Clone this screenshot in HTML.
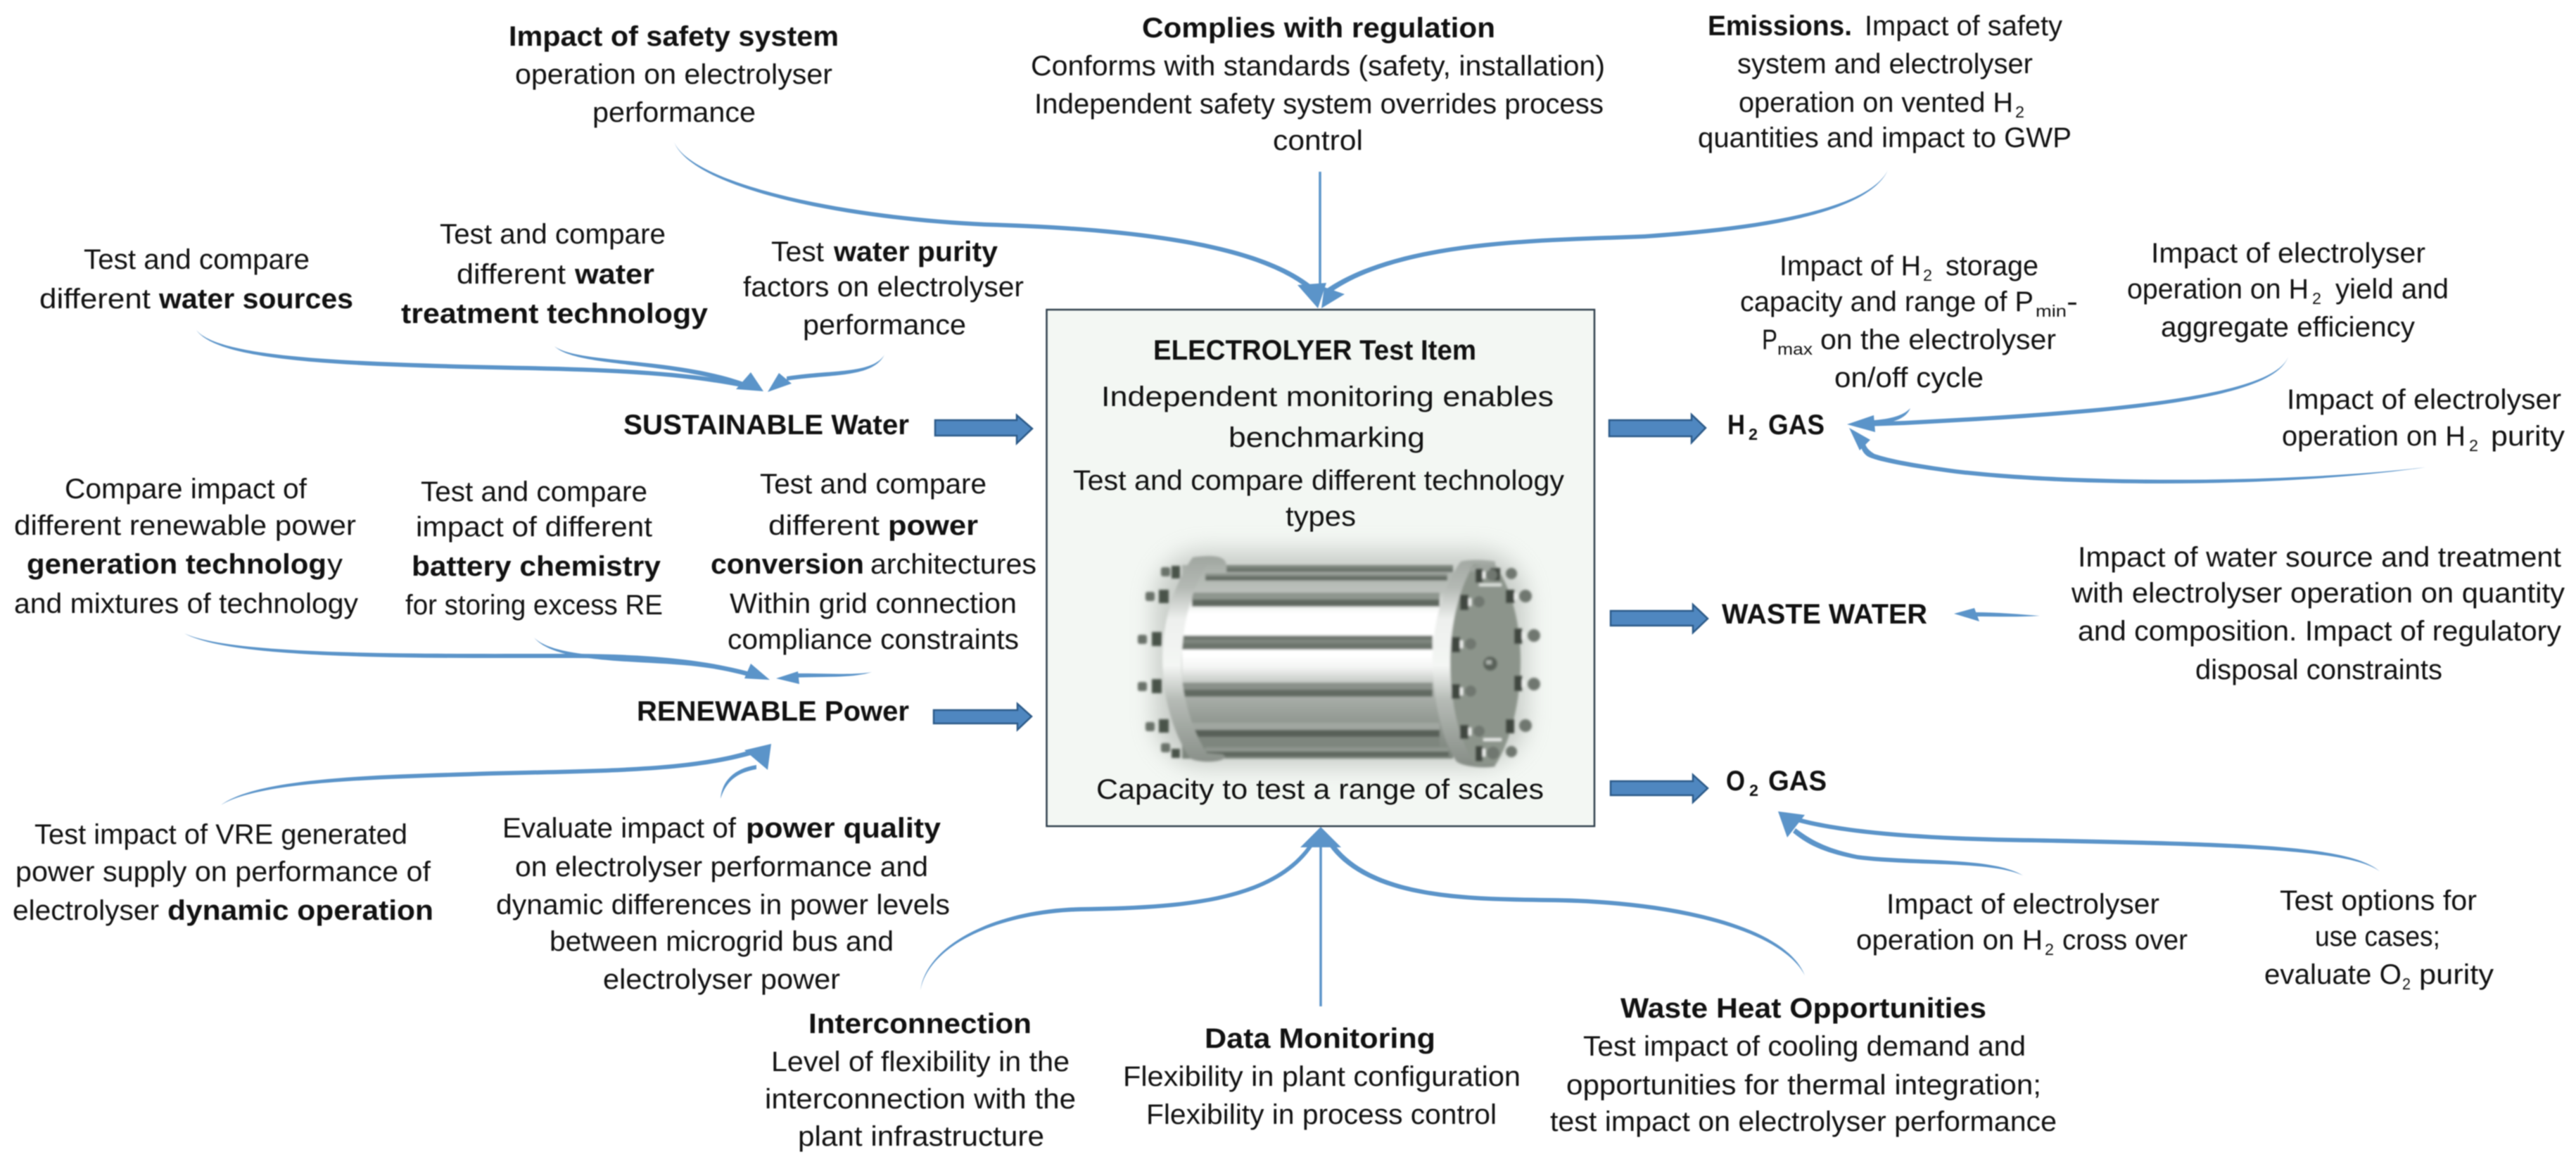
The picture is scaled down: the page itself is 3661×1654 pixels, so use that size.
<!DOCTYPE html>
<html><head><meta charset="utf-8">
<style>
html,body{margin:0;padding:0;background:#fff;width:3661px;height:1654px;overflow:hidden}
svg{display:block;filter:blur(.7px)}
text{font-family:"Liberation Sans",sans-serif;font-size:40px;fill:#111}
.b{font-weight:700}
.s{font-size:23px}
.t{fill:none;stroke:#5b94c9;stroke-width:3.5}
.h,.c{fill:#5b94c9}
.a{fill:#4f87c0;stroke:#2c5a88;stroke-width:2.5}
</style></head><body>
<svg xmlns="http://www.w3.org/2000/svg" width="3661" height="1654" viewBox="0 0 3661 1654">
<defs>
<linearGradient id="body" gradientUnits="userSpaceOnUse" x1="0" y1="803" x2="0" y2="1078">
<stop offset="0" stop-color="#a8aea8"/><stop offset=".08" stop-color="#b4bab4"/><stop offset=".14" stop-color="#bcc1bc"/><stop offset=".21" stop-color="#eef0ee"/><stop offset=".25" stop-color="#ffffff"/><stop offset=".47" stop-color="#ffffff"/><stop offset=".53" stop-color="#f3f4f3"/><stop offset=".6" stop-color="#c8ccc8"/><stop offset=".65" stop-color="#aeb3ae"/><stop offset=".8" stop-color="#939a93"/><stop offset="1" stop-color="#7c847c"/>
</linearGradient>
<linearGradient id="fl" gradientUnits="userSpaceOnUse" x1="0" y1="790" x2="0" y2="1090">
<stop offset="0" stop-color="#a0a6a0"/><stop offset=".15" stop-color="#b4b9b4"/><stop offset=".3" stop-color="#eef0ee"/><stop offset=".52" stop-color="#f4f6f4"/><stop offset=".68" stop-color="#b6bbb6"/><stop offset="1" stop-color="#858c85"/>
</linearGradient>
<filter id="bl" x="-10%" y="-10%" width="120%" height="120%"><feGaussianBlur stdDeviation="1.5"/></filter>
<filter id="sh" x="-20%" y="-20%" width="140%" height="140%"><feGaussianBlur stdDeviation="16"/></filter>
</defs>

<!-- central box -->
<rect x="1487.5" y="440" width="778.5" height="734" fill="#f3f7f3" stroke="#2f3f4c" stroke-width="2.5"/>

<!-- cylinder -->
<rect x="1640" y="782" width="530" height="308" rx="70" fill="#aeb3ae" opacity=".6" filter="url(#sh)"/>
<g filter="url(#bl)">
<rect x="1680" y="803" width="385" height="275" fill="url(#body)"/>
<!-- rods -->
<rect x="1743" y="803" width="322" height="5" fill="#7d857d"/><rect x="1743" y="808" width="322" height="5" fill="#69716a"/>
<rect x="1713" y="815" width="344" height="4" fill="#8a918a"/><rect x="1713" y="819" width="344" height="6" fill="#646c64"/>
<rect x="1694" y="842" width="352" height="10" fill="#8f968f"/><rect x="1694" y="852" width="352" height="10" fill="#5f675f"/>
<rect x="1680" y="903" width="356" height="20" fill="#6d756d"/><rect x="1680" y="909" width="356" height="5" fill="#7f877f"/>
<rect x="1680" y="970" width="356" height="10" fill="#8a918a"/><rect x="1680" y="980" width="356" height="10" fill="#626a62"/>
<rect x="1694" y="1027" width="352" height="10" fill="#a0a6a0"/><rect x="1694" y="1037" width="352" height="10" fill="#596159"/>
<rect x="1694" y="1047" width="352" height="15" fill="#7e867e"/>
<rect x="1713" y="1062" width="346" height="6" fill="#8f968f"/><rect x="1713" y="1068" width="346" height="7" fill="#5f675f"/>
<!-- left flange -->
<path d="M1695 792 C1668 830 1652 885 1652 935 C1652 990 1668 1045 1692 1078 C1705 1084 1735 1084 1742 1076 L1738 1072 L1715 1070 C1695 1040 1680 990 1679 950 C1679 885 1695 835 1715 803 L1743 803 C1742 790 1725 788 1695 792Z" fill="url(#fl)"/>
<!-- left bolts -->
<g fill="#4a524a">
<rect x="1665" y="804" width="12" height="18"/><rect x="1647" y="838" width="14" height="19"/><rect x="1637" y="898" width="14" height="20"/><rect x="1637" y="965" width="14" height="20"/><rect x="1647" y="1022" width="14" height="19"/><rect x="1665" y="1064" width="12" height="13"/>
</g>
<g fill="#6a726a">
<rect x="1650" y="806" width="13" height="13" rx="3"/><rect x="1628" y="841" width="13" height="13" rx="3"/><rect x="1617" y="902" width="13" height="13" rx="3"/><rect x="1617" y="969" width="13" height="13" rx="3"/><rect x="1628" y="1026" width="13" height="13" rx="3"/><rect x="1650" y="1056" width="13" height="13" rx="3"/>
</g>
<!-- right flange and face -->
<path d="M2076 798 C2052 830 2036 885 2036 935 C2036 990 2048 1050 2070 1082 C2080 1090 2112 1092 2125 1089 L2125 798 C2112 795 2085 795 2076 798Z" fill="url(#fl)"/>
<path d="M2094 802 C2072 840 2061 890 2061 940 C2061 995 2072 1050 2096 1086 L2126 1086 C2148 1050 2161 995 2161 940 C2161 885 2148 835 2124 802Z" fill="#8c948b"/>
<path d="M2088 806 C2110 800 2122 800 2128 806 L2128 812 L2090 812Z" fill="#9ea49e"/>
<!-- right nuts -->
<g fill="#3f473f">
<rect x="2097" y="808" width="10" height="20"/><rect x="2075" y="845" width="12" height="22"/><rect x="2063" y="905" width="12" height="22"/><rect x="2063" y="972" width="12" height="21"/><rect x="2075" y="1030" width="12" height="20"/><rect x="2097" y="1060" width="10" height="22"/>
<rect x="2118" y="807" width="14" height="18"/><rect x="2140" y="838" width="12" height="19"/><rect x="2152" y="893" width="11" height="22"/><rect x="2152" y="960" width="11" height="22"/><rect x="2140" y="1022" width="12" height="20"/>
</g>
<g fill="#6f776f">
<circle cx="2120" cy="817" r="8"/><circle cx="2102" cy="855" r="8"/><circle cx="2090" cy="915" r="8"/><circle cx="2090" cy="982" r="8"/><circle cx="2102" cy="1039" r="8"/><circle cx="2122" cy="1070" r="9"/>
<circle cx="2148" cy="815" r="8"/><circle cx="2168" cy="847" r="9"/><circle cx="2180" cy="903" r="9"/><circle cx="2180" cy="972" r="9"/><circle cx="2168" cy="1031" r="9"/><circle cx="2148" cy="1068" r="8"/>
</g>
<circle cx="2118" cy="943" r="10" fill="#596159"/><rect x="2112" y="938" width="8" height="6" fill="#aab0aa"/>
<g fill="#f4f6f4">
<rect x="2107" y="812" width="4" height="10"/><rect x="2087" y="850" width="4" height="11"/><rect x="2075" y="910" width="4" height="11"/><rect x="2075" y="977" width="4" height="11"/><rect x="2087" y="1034" width="4" height="11"/><rect x="2107" y="1064" width="4" height="11"/>
<rect x="2152" y="843" width="4" height="9"/><rect x="2163" y="898" width="4" height="10"/><rect x="2163" y="966" width="4" height="10"/>
<rect x="2102" y="829" width="32" height="4" opacity=".8"/><rect x="2108" y="1049" width="26" height="4" opacity=".9"/>
</g>
</g>

<!-- block arrows -->
<polygon class="a" points="1329,597 1445,597 1445,590 1467,609 1445,630 1445,619 1329,619"/>
<polygon class="a" points="1327,1009 1446,1009 1446,1000 1466,1018 1446,1037 1446,1028 1327,1028"/>
<polygon class="a" points="2287,597 2404,597 2404,589 2424,608 2404,629 2404,620 2287,620"/>
<polygon class="a" points="2289,868 2406,868 2406,859 2427,879 2406,899 2406,889 2289,889"/>
<polygon class="a" points="2289,1110 2406,1110 2406,1101 2427,1120 2406,1140 2406,1130 2289,1130"/>

<!-- tapered connectors -->
<path class="c" d="M958 202 C985 262 1200 307 1400 316 C1600 322 1790 342 1868 409 L1864 415 C1788 348 1600 328 1400 322 C1200 313 985 268 958 202Z"/>
<path class="t" d="M1876 244 V410"/>
<path class="c" d="M2683 242 C2650 307 2450 325 2337 333 C2200 339 1990 337 1883 412 L1888 418 C1990 343 2200 345 2337 339 C2450 331 2650 313 2683 242Z"/>
<polygon class="h" points="1844,405 1885,402 1873,438"/><polygon class="h" points="1882,408 1911,418 1878,438"/>

<path class="c" d="M279 469 C310 507 480 514 700 519 C850 522 960 525 1062 545 L1058 551 C960 531 850 528 700 525 C480 520 310 513 279 469Z"/>
<path class="c" d="M788 492 C820 517 960 507 1062 545 L1058 551 C960 513 820 523 788 492Z"/>
<polygon class="h" points="1067,529 1046,553 1085,556"/>
<path class="c" d="M1257 504 C1240 532 1180 525 1118 535 L1118 541 C1180 531 1240 538 1257 504Z"/>
<polygon class="h" points="1107,530 1125,545 1091,557"/>

<path class="c" d="M262 900 C330 932 600 929 804 929 C920 929 1000 937 1066 955 L1064 961 C1000 943 920 935 804 935 C600 935 330 938 262 900Z"/>
<path class="c" d="M759 906 C790 937 900 932 982 940 C1020 944 1040 949 1066 955 L1064 961 C1040 955 1020 950 982 946 C900 938 790 943 759 906Z"/>
<polygon class="h" points="1067,943 1058,964 1094,966"/>
<path class="c" d="M1239 955 C1210 960 1170 956 1125 957 L1125 963 C1170 961 1210 964 1239 955Z"/>
<polygon class="h" points="1134,954 1136,972 1103,964"/>

<path class="c" d="M314 1144 C370 1102 560 1101 700 1096 C880 1092 980 1091 1063 1067 L1067 1073 C980 1097 880 1098 700 1102 C560 1107 370 1108 314 1144Z"/>
<path class="c" d="M1024 1135 C1026 1110 1043 1092 1075 1087 L1075 1093 C1047 1098 1032 1110 1024 1135Z"/>
<polygon class="h" points="1096,1057 1058,1066 1091,1094"/>

<path class="c" d="M1308 1407 C1318 1340 1418 1292 1536 1289 C1680 1287 1808 1278 1862 1198 L1866 1202 C1812 1283 1680 1293 1536 1295 C1422 1298 1322 1340 1308 1407Z"/>
<path class="c" d="M1895 1198 C1953 1277 2100 1274 2200 1276 C2350 1277 2533 1307 2565 1386 C2527 1313 2350 1283 2200 1282 C2100 1280 1947 1283 1889 1202Z"/>
<path class="t" d="M1877 1430 V1195"/>
<polygon class="h" points="1877,1175 1848,1204 1906,1204"/>

<path class="c" d="M2715 580 C2705 590 2690 596 2650 598 L2650 604 C2690 602 2708 596 2715 580Z"/>
<path class="c" d="M3252 507 C3230 562 3020 582 2707 598 L2650 600 L2650 606 L2707 604 C3020 588 3230 568 3252 507Z"/>
<polygon class="h" points="2625,603 2663,590 2665,614"/>
<path class="c" d="M3447 664 C3250 687 2950 687 2780 667 C2720 659 2684 652 2664 645 C2656 640 2652 636 2650 628 L2644 630 C2645 640 2650 648 2660 651 C2680 658 2720 665 2780 673 C2950 693 3250 693 3447 664Z"/>
<polygon class="h" points="2628,608 2658,625 2643,640"/>

<path class="c" d="M2899 875 C2870 873 2840 870 2805 870 L2805 876 C2840 876 2870 877 2899 875Z"/>
<polygon class="h" points="2777,872 2806,864 2813,883"/>

<path class="c" d="M3382 1238 C3340 1202 3200 1197 2886 1191 C2750 1189 2630 1182 2556 1162 L2554 1168 C2630 1188 2750 1195 2886 1197 C3200 1203 3340 1208 3382 1238Z"/>
<path class="c" d="M2875 1244 C2830 1217 2720 1225 2640 1215 C2602 1207 2578 1197 2552 1177 L2548 1183 C2572 1203 2598 1213 2640 1221 C2720 1231 2830 1223 2875 1244Z"/>
<polygon class="h" points="2527,1153 2565,1158 2540,1190"/>

<!-- top labels -->
<text class="b" x="723" y="65" textLength="469" lengthAdjust="spacingAndGlyphs">Impact of safety system</text>
<text x="732" y="119" textLength="451" lengthAdjust="spacingAndGlyphs">operation on electrolyser</text>
<text x="842" y="173" textLength="232" lengthAdjust="spacingAndGlyphs">performance</text>

<text class="b" x="1623" y="53" textLength="502" lengthAdjust="spacingAndGlyphs">Complies with regulation</text>
<text x="1465" y="107" textLength="816" lengthAdjust="spacingAndGlyphs">Conforms with standards (safety, installation)</text>
<text x="1470" y="161" textLength="809" lengthAdjust="spacingAndGlyphs">Independent safety system overrides process</text>
<text x="1809" y="213" textLength="128" lengthAdjust="spacingAndGlyphs">control</text>

<text class="b" x="2427" y="50" textLength="205" lengthAdjust="spacingAndGlyphs">Emissions.</text>
<text x="2650" y="50" textLength="281" lengthAdjust="spacingAndGlyphs">Impact of safety</text>
<text x="2469" y="104" textLength="420" lengthAdjust="spacingAndGlyphs">system and electrolyser</text>
<text x="2471" y="159" textLength="390" lengthAdjust="spacingAndGlyphs">operation on vented H</text>
<text class="s" x="2864" y="167" textLength="13" lengthAdjust="spacingAndGlyphs">2</text>
<text x="2413" y="209" textLength="531" lengthAdjust="spacingAndGlyphs">quantities and impact to GWP</text>

<!-- water -->
<text x="119" y="382" textLength="321" lengthAdjust="spacingAndGlyphs">Test and compare</text>
<text x="56" y="438" textLength="158" lengthAdjust="spacingAndGlyphs">different</text>
<text class="b" x="226" y="438" textLength="276" lengthAdjust="spacingAndGlyphs">water sources</text>
<text x="625" y="346" textLength="321" lengthAdjust="spacingAndGlyphs">Test and compare</text>
<text x="649" y="403" textLength="155" lengthAdjust="spacingAndGlyphs">different</text>
<text class="b" x="817" y="403" textLength="113" lengthAdjust="spacingAndGlyphs">water</text>
<text class="b" x="570" y="459" textLength="436" lengthAdjust="spacingAndGlyphs">treatment technology</text>
<text x="1096" y="371" textLength="75" lengthAdjust="spacingAndGlyphs">Test</text>
<text class="b" x="1185" y="371" textLength="233" lengthAdjust="spacingAndGlyphs">water purity</text>
<text x="1056" y="421" textLength="399" lengthAdjust="spacingAndGlyphs">factors on electrolyser</text>
<text x="1141" y="475" textLength="232" lengthAdjust="spacingAndGlyphs">performance</text>
<text class="b" x="886" y="617" textLength="406" lengthAdjust="spacingAndGlyphs">SUSTAINABLE Water</text>

<!-- renewable -->
<text x="92" y="708" textLength="344" lengthAdjust="spacingAndGlyphs">Compare impact of</text>
<text x="20" y="760" textLength="486" lengthAdjust="spacingAndGlyphs">different renewable power</text>
<text class="b" x="38" y="815" textLength="426" lengthAdjust="spacingAndGlyphs">generation technolog</text>
<text x="465" y="815" textLength="22" lengthAdjust="spacingAndGlyphs">y</text>
<text x="20" y="871" textLength="489" lengthAdjust="spacingAndGlyphs">and mixtures of technology</text>
<text x="598" y="712" textLength="322" lengthAdjust="spacingAndGlyphs">Test and compare</text>
<text x="591" y="762" textLength="336" lengthAdjust="spacingAndGlyphs">impact of different</text>
<text class="b" x="585" y="818" textLength="354" lengthAdjust="spacingAndGlyphs">battery chemistry</text>
<text x="576" y="873" textLength="366" lengthAdjust="spacingAndGlyphs">for storing excess RE</text>
<text x="1080" y="701" textLength="322" lengthAdjust="spacingAndGlyphs">Test and compare</text>
<text x="1092" y="760" textLength="158" lengthAdjust="spacingAndGlyphs">different</text>
<text class="b" x="1262" y="760" textLength="128" lengthAdjust="spacingAndGlyphs">power</text>
<text class="b" x="1010" y="815" textLength="218" lengthAdjust="spacingAndGlyphs">conversion</text>
<text x="1237" y="815" textLength="236" lengthAdjust="spacingAndGlyphs">architectures</text>
<text x="1037" y="871" textLength="408" lengthAdjust="spacingAndGlyphs">Within grid connection</text>
<text x="1034" y="922" textLength="414" lengthAdjust="spacingAndGlyphs">compliance constraints</text>
<text class="b" x="905" y="1024" textLength="387" lengthAdjust="spacingAndGlyphs">RENEWABLE Power</text>

<text x="49" y="1199" textLength="530" lengthAdjust="spacingAndGlyphs">Test impact of VRE generated</text>
<text x="22" y="1252" textLength="590" lengthAdjust="spacingAndGlyphs">power supply on performance of</text>
<text x="18" y="1307" textLength="208" lengthAdjust="spacingAndGlyphs">electrolyser</text>
<text class="b" x="238" y="1307" textLength="378" lengthAdjust="spacingAndGlyphs">dynamic operation</text>

<text x="714" y="1190" textLength="332" lengthAdjust="spacingAndGlyphs">Evaluate impact of</text>
<text class="b" x="1060" y="1190" textLength="277" lengthAdjust="spacingAndGlyphs">power quality</text>
<text x="732" y="1245" textLength="587" lengthAdjust="spacingAndGlyphs">on electrolyser performance and</text>
<text x="705" y="1299" textLength="645" lengthAdjust="spacingAndGlyphs">dynamic differences in power levels</text>
<text x="781" y="1351" textLength="489" lengthAdjust="spacingAndGlyphs">between microgrid bus and</text>
<text x="857" y="1405" textLength="337" lengthAdjust="spacingAndGlyphs">electrolyser power</text>

<!-- box text -->
<text class="b" x="1639" y="511" textLength="459" lengthAdjust="spacingAndGlyphs">ELECTROLYER Test Item</text>
<text x="1565" y="577" textLength="643" lengthAdjust="spacingAndGlyphs">Independent monitoring enables</text>
<text x="1746" y="635" textLength="279" lengthAdjust="spacingAndGlyphs">benchmarking</text>
<text x="1525" y="696" textLength="698" lengthAdjust="spacingAndGlyphs">Test and compare different technology</text>
<text x="1827" y="747" textLength="100" lengthAdjust="spacingAndGlyphs">types</text>
<text x="1558" y="1135" textLength="636" lengthAdjust="spacingAndGlyphs">Capacity to test a range of scales</text>

<!-- bottom -->
<text class="b" x="1149" y="1468" textLength="317" lengthAdjust="spacingAndGlyphs">Interconnection</text>
<text x="1096" y="1522" textLength="424" lengthAdjust="spacingAndGlyphs">Level of flexibility in the</text>
<text x="1087" y="1575" textLength="442" lengthAdjust="spacingAndGlyphs">interconnection with the</text>
<text x="1134" y="1628" textLength="350" lengthAdjust="spacingAndGlyphs">plant infrastructure</text>
<text class="b" x="1712" y="1489" textLength="328" lengthAdjust="spacingAndGlyphs">Data Monitoring</text>
<text x="1596" y="1543" textLength="565" lengthAdjust="spacingAndGlyphs">Flexibility in plant configuration</text>
<text x="1629" y="1597" textLength="498" lengthAdjust="spacingAndGlyphs">Flexibility in process control</text>
<text class="b" x="2303" y="1446" textLength="520" lengthAdjust="spacingAndGlyphs">Waste Heat Opportunities</text>
<text x="2250" y="1500" textLength="629" lengthAdjust="spacingAndGlyphs">Test impact of cooling demand and</text>
<text x="2226" y="1555" textLength="675" lengthAdjust="spacingAndGlyphs">opportunities for thermal integration;</text>
<text x="2203" y="1607" textLength="720" lengthAdjust="spacingAndGlyphs">test impact on electrolyser performance</text>

<!-- right H2 -->
<text x="2529" y="391" textLength="201" lengthAdjust="spacingAndGlyphs">Impact of H</text>
<text class="s" x="2733" y="399" textLength="13" lengthAdjust="spacingAndGlyphs">2</text>
<text x="2765" y="391" textLength="132" lengthAdjust="spacingAndGlyphs">storage</text>
<text x="2473" y="442" textLength="417" lengthAdjust="spacingAndGlyphs">capacity and range of P</text>
<text class="s" x="2893" y="450" textLength="44" lengthAdjust="spacingAndGlyphs">min</text>
<text x="2937" y="442" textLength="16" lengthAdjust="spacingAndGlyphs">-</text>
<text x="2504" y="496" textLength="22" lengthAdjust="spacingAndGlyphs">P</text>
<text class="s" x="2526" y="504" textLength="50" lengthAdjust="spacingAndGlyphs">max</text>
<text x="2587" y="496" textLength="335" lengthAdjust="spacingAndGlyphs">on the electrolyser</text>
<text x="2607" y="550" textLength="212" lengthAdjust="spacingAndGlyphs">on/off cycle</text>

<text x="3057" y="373" textLength="390" lengthAdjust="spacingAndGlyphs">Impact of electrolyser</text>
<text x="3023" y="424" textLength="258" lengthAdjust="spacingAndGlyphs">operation on H</text>
<text class="s" x="3286" y="432" textLength="13" lengthAdjust="spacingAndGlyphs">2</text>
<text x="3319" y="424" textLength="161" lengthAdjust="spacingAndGlyphs">yield and</text>
<text x="3071" y="478" textLength="361" lengthAdjust="spacingAndGlyphs">aggregate efficiency</text>

<text x="3250" y="581" textLength="390" lengthAdjust="spacingAndGlyphs">Impact of electrolyser</text>
<text x="3243" y="633" textLength="261" lengthAdjust="spacingAndGlyphs">operation on H</text>
<text class="s" x="3509" y="641" textLength="13" lengthAdjust="spacingAndGlyphs">2</text>
<text x="3540" y="633" textLength="105" lengthAdjust="spacingAndGlyphs">purity</text>

<text class="b" x="2455" y="617" textLength="25" lengthAdjust="spacingAndGlyphs">H</text>
<text class="b s" x="2485" y="625" textLength="13" lengthAdjust="spacingAndGlyphs">2</text>
<text class="b" x="2513" y="617" textLength="80" lengthAdjust="spacingAndGlyphs">GAS</text>

<text class="b" x="2447" y="886" textLength="292" lengthAdjust="spacingAndGlyphs">WASTE WATER</text>
<text x="2953" y="805" textLength="687" lengthAdjust="spacingAndGlyphs">Impact of water source and treatment</text>
<text x="2944" y="856" textLength="701" lengthAdjust="spacingAndGlyphs">with electrolyser operation on quantity</text>
<text x="2953" y="910" textLength="687" lengthAdjust="spacingAndGlyphs">and composition. Impact of regulatory</text>
<text x="3120" y="965" textLength="351" lengthAdjust="spacingAndGlyphs">disposal constraints</text>

<text class="b" x="2453" y="1123" textLength="27" lengthAdjust="spacingAndGlyphs">O</text>
<text class="b s" x="2486" y="1131" textLength="13" lengthAdjust="spacingAndGlyphs">2</text>
<text class="b" x="2513" y="1123" textLength="83" lengthAdjust="spacingAndGlyphs">GAS</text>

<text x="2681" y="1298" textLength="388" lengthAdjust="spacingAndGlyphs">Impact of electrolyser</text>
<text x="2638" y="1349" textLength="265" lengthAdjust="spacingAndGlyphs">operation on H</text>
<text class="s" x="2906" y="1357" textLength="13" lengthAdjust="spacingAndGlyphs">2</text>
<text x="2931" y="1349" textLength="178" lengthAdjust="spacingAndGlyphs">cross over</text>

<text x="3240" y="1293" textLength="280" lengthAdjust="spacingAndGlyphs">Test options for</text>
<text x="3290" y="1344" textLength="178" lengthAdjust="spacingAndGlyphs">use cases;</text>
<text x="3218" y="1398" textLength="195" lengthAdjust="spacingAndGlyphs">evaluate O</text>
<text class="s" x="3414" y="1406" textLength="12" lengthAdjust="spacingAndGlyphs">2</text>
<text x="3438" y="1398" textLength="106" lengthAdjust="spacingAndGlyphs">purity</text>
</svg>
</body></html>
